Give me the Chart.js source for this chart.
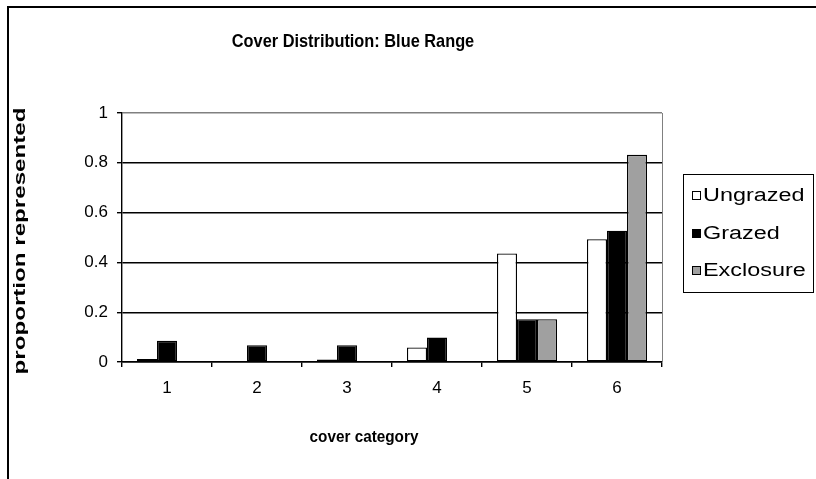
<!DOCTYPE html>
<html>
<head>
    <script src="https://cdn.jsdelivr.net/npm/chart.js@4.4.1/dist/chart.umd.min.js"></script>
    <style>
        body { margin: 0; background: #fff; }
        #wrap { width: 816px; height: 479px; }
    </style>
</head>
<body>
<div id="wrap">
    <canvas id="myChart" width="816" height="479"></canvas>
</div>

<script>
    const chartTitle = 'Cover Distribution: Blue Range';
    const xTitle = 'cover category';
    const yTitle = 'proportion represented';

    const categories = ['1', '2', '3', '4', '5', '6'];
    const ungrazed = [0.012, 0, 0.01, 0.058, 0.436, 0.493];
    const grazed = [0.085, 0.067, 0.067, 0.098, 0.172, 0.527];
    const exclosure = [0, 0, 0, 0, 0.172, 0.832];
    const yTicks = [0, 0.2, 0.4, 0.6, 0.8, 1];
    const yTickLabels = ['0', '0.2', '0.4', '0.6', '0.8', '1'];

    const font = "Arial, 'Liberation Sans', sans-serif";

    // draw text squeezed/stretched, the source picture has odd font scaling
    function stretchText(ctx, text, x, y, sx, sy, rot) {
        ctx.save();
        ctx.translate(x, y);
        if (rot) ctx.rotate(rot);
        ctx.scale(sx, sy);
        ctx.fillText(text, 0, 0);
        ctx.restore();
    }

    // titles, legend box, frame and plot border drawn by hand
    const decorations = {
        id: 'decorations',
        afterDraw(chart) {
            const ctx = chart.ctx;
            const area = chart.chartArea;
            ctx.save();

            // outer frame (top + left only, rest is cut off)
            ctx.fillStyle = '#000';
            ctx.fillRect(7, 6, 809, 2);
            ctx.fillRect(7, 6, 2, 473);

            // plot area right border
            ctx.strokeStyle = '#808080';
            ctx.lineWidth = 1;
            ctx.beginPath();
            ctx.moveTo(Math.round(area.right) + 0.5, area.top);
            ctx.lineTo(Math.round(area.right) + 0.5, area.bottom);
            ctx.stroke();

            ctx.fillStyle = '#000';
            ctx.textAlign = 'center';
            ctx.textBaseline = 'middle';
            ctx.font = 'bold 19px ' + font;
            stretchText(ctx, chartTitle, 353, 42, 0.86, 1);

            ctx.font = 'bold 17px ' + font;
            stretchText(ctx, xTitle, 364, 437, 0.9, 1);

            ctx.font = 'bold 17px ' + font;
            stretchText(ctx, yTitle, 20, 241, 1.42, 1, -Math.PI / 2);

            // legend
            ctx.strokeStyle = '#000';
            ctx.lineWidth = 1;
            ctx.strokeRect(683.5, 174.5, 130, 118);
            ctx.font = '18px ' + font;
            ctx.textAlign = 'left';
            chart.data.datasets.forEach((ds, i) => {
                const cy = 195.5 + i * 37.5;
                ctx.fillStyle = ds.backgroundColor;
                ctx.fillRect(692, Math.round(cy - 4.5), 9, 9);
                ctx.strokeRect(692.5, Math.round(cy - 4.5) + 0.5, 8, 8);
                ctx.fillStyle = '#000';
                stretchText(ctx, ds.label, 703, cy + 1, 1.3, 1);
            });
            ctx.restore();
        }
    };

    const ctx = document.getElementById('myChart').getContext('2d');
    const myChart = new Chart(ctx, {
        type: 'bar',
        data: {
            labels: categories,
            datasets: [
                {label: 'Ungrazed', data: ungrazed, backgroundColor: '#ffffff', borderColor: '#000', borderWidth: 1.3},
                {label: 'Grazed', data: grazed, backgroundColor: '#000000', borderColor: '#000', borderWidth: 1.3},
                {label: 'Exclosure', data: exclosure, backgroundColor: '#a0a0a0', borderColor: '#000', borderWidth: 1.3}
            ]
        },
        options: {
            responsive: false,
            animation: false,
            events: [],
            layout: {padding: {top: 113, right: 154, left: 0, bottom: 0}},
            datasets: {bar: {categoryPercentage: 0.667, barPercentage: 1, borderSkipped: false}},
            plugins: {
                legend: {display: false},
                title: {display: false},
                tooltip: {enabled: false}
            },
            scales: {
                x: {
                    afterFit: s => { s.height = 117; },
                    grid: {display: true, drawOnChartArea: false, offset: true, color: '#000', tickLength: 5, lineWidth: 1.4},
                    border: {color: '#000', width: 1.4},
                    ticks: {color: '#000', font: {family: font, size: 17}, padding: 11, maxRotation: 0}
                },
                y: {
                    min: 0,
                    max: 1,
                    afterFit: s => { s.width = 122; },
                    afterBuildTicks: s => { s.ticks = yTicks.map(v => ({value: v})); },
                    grid: {
                        color: c => (c.tick && c.tick.value === 1) ? '#808080' : '#000',
                        tickColor: '#000',
                        tickLength: 5,
                        lineWidth: 1.4
                    },
                    border: {color: '#000', width: 1.4},
                    ticks: {
                        color: '#000',
                        font: {family: font, size: 17},
                        padding: 9,
                        callback: (v, i) => yTickLabels[i]
                    }
                }
            }
        },
        plugins: [decorations]
    });
</script>
</body>
</html>
